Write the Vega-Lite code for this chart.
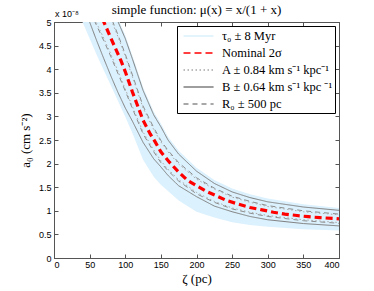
{
  "$schema": "https://vega.github.io/schema/vega-lite/v6.json",
  "width": 285,
  "height": 236,
  "autosize": {"type": "none"},
  "padding": {"left": 54, "top": 22, "right": 35, "bottom": 33},
  "background": "white",
  "title": {"text": "simple function: μ(x) = x/(1 + x)", "font": "Liberation Serif", "fontSize": 13, "fontWeight": "normal", "color": "black", "offset": -7, "anchor": "middle"},
  "datasets": {
    "band": [
      {"s": "τ₀ ± 8 Myr", "z": 40, "lo": 5.0, "hi": 6.87},
      {"s": "τ₀ ± 8 Myr", "z": 50, "lo": 4.65, "hi": 6.47},
      {"s": "τ₀ ± 8 Myr", "z": 60, "lo": 4.30, "hi": 6.12},
      {"s": "τ₀ ± 8 Myr", "z": 70, "lo": 3.97, "hi": 5.77},
      {"s": "τ₀ ± 8 Myr", "z": 80, "lo": 3.65, "hi": 5.42},
      {"s": "τ₀ ± 8 Myr", "z": 90, "lo": 3.32, "hi": 5.07},
      {"s": "τ₀ ± 8 Myr", "z": 100, "lo": 2.99, "hi": 4.72},
      {"s": "τ₀ ± 8 Myr", "z": 110, "lo": 2.65, "hi": 4.29},
      {"s": "τ₀ ± 8 Myr", "z": 125, "lo": 2.08, "hi": 3.62},
      {"s": "τ₀ ± 8 Myr", "z": 140, "lo": 1.72, "hi": 3.10},
      {"s": "τ₀ ± 8 Myr", "z": 150, "lo": 1.55, "hi": 2.85},
      {"s": "τ₀ ± 8 Myr", "z": 160, "lo": 1.42, "hi": 2.57},
      {"s": "τ₀ ± 8 Myr", "z": 175, "lo": 1.22, "hi": 2.27},
      {"s": "τ₀ ± 8 Myr", "z": 200, "lo": 0.98, "hi": 1.91},
      {"s": "τ₀ ± 8 Myr", "z": 225, "lo": 0.86, "hi": 1.65},
      {"s": "τ₀ ± 8 Myr", "z": 250, "lo": 0.76, "hi": 1.47},
      {"s": "τ₀ ± 8 Myr", "z": 275, "lo": 0.70, "hi": 1.35},
      {"s": "τ₀ ± 8 Myr", "z": 300, "lo": 0.66, "hi": 1.26},
      {"s": "τ₀ ± 8 Myr", "z": 350, "lo": 0.61, "hi": 1.14},
      {"s": "τ₀ ± 8 Myr", "z": 400, "lo": 0.58, "hi": 1.06}
    ],
    "lines": [
      {"s": "B ± 0.64 km s⁻¹ kpc ⁻¹", "b": "u", "z": 70, "a": 5.7},
      {"s": "B ± 0.64 km s⁻¹ kpc ⁻¹", "b": "u", "z": 80, "a": 5.35},
      {"s": "B ± 0.64 km s⁻¹ kpc ⁻¹", "b": "u", "z": 90, "a": 5.0},
      {"s": "B ± 0.64 km s⁻¹ kpc ⁻¹", "b": "u", "z": 100, "a": 4.65},
      {"s": "B ± 0.64 km s⁻¹ kpc ⁻¹", "b": "u", "z": 110, "a": 4.22},
      {"s": "B ± 0.64 km s⁻¹ kpc ⁻¹", "b": "u", "z": 125, "a": 3.55},
      {"s": "B ± 0.64 km s⁻¹ kpc ⁻¹", "b": "u", "z": 140, "a": 3.03},
      {"s": "B ± 0.64 km s⁻¹ kpc ⁻¹", "b": "u", "z": 150, "a": 2.78},
      {"s": "B ± 0.64 km s⁻¹ kpc ⁻¹", "b": "u", "z": 160, "a": 2.5},
      {"s": "B ± 0.64 km s⁻¹ kpc ⁻¹", "b": "u", "z": 175, "a": 2.2},
      {"s": "B ± 0.64 km s⁻¹ kpc ⁻¹", "b": "u", "z": 200, "a": 1.84},
      {"s": "B ± 0.64 km s⁻¹ kpc ⁻¹", "b": "u", "z": 225, "a": 1.58},
      {"s": "B ± 0.64 km s⁻¹ kpc ⁻¹", "b": "u", "z": 250, "a": 1.40},
      {"s": "B ± 0.64 km s⁻¹ kpc ⁻¹", "b": "u", "z": 275, "a": 1.28},
      {"s": "B ± 0.64 km s⁻¹ kpc ⁻¹", "b": "u", "z": 300, "a": 1.19},
      {"s": "B ± 0.64 km s⁻¹ kpc ⁻¹", "b": "u", "z": 350, "a": 1.08},
      {"s": "B ± 0.64 km s⁻¹ kpc ⁻¹", "b": "u", "z": 400, "a": 1.01},
      {"s": "B ± 0.64 km s⁻¹ kpc ⁻¹", "b": "l", "z": 40, "a": 5.4},
      {"s": "B ± 0.64 km s⁻¹ kpc ⁻¹", "b": "l", "z": 50, "a": 5.0},
      {"s": "B ± 0.64 km s⁻¹ kpc ⁻¹", "b": "l", "z": 60, "a": 4.6},
      {"s": "B ± 0.64 km s⁻¹ kpc ⁻¹", "b": "l", "z": 70, "a": 4.22},
      {"s": "B ± 0.64 km s⁻¹ kpc ⁻¹", "b": "l", "z": 80, "a": 3.85},
      {"s": "B ± 0.64 km s⁻¹ kpc ⁻¹", "b": "l", "z": 90, "a": 3.5},
      {"s": "B ± 0.64 km s⁻¹ kpc ⁻¹", "b": "l", "z": 100, "a": 3.18},
      {"s": "B ± 0.64 km s⁻¹ kpc ⁻¹", "b": "l", "z": 110, "a": 2.9},
      {"s": "B ± 0.64 km s⁻¹ kpc ⁻¹", "b": "l", "z": 125, "a": 2.45},
      {"s": "B ± 0.64 km s⁻¹ kpc ⁻¹", "b": "l", "z": 140, "a": 2.1},
      {"s": "B ± 0.64 km s⁻¹ kpc ⁻¹", "b": "l", "z": 150, "a": 1.93},
      {"s": "B ± 0.64 km s⁻¹ kpc ⁻¹", "b": "l", "z": 160, "a": 1.75},
      {"s": "B ± 0.64 km s⁻¹ kpc ⁻¹", "b": "l", "z": 175, "a": 1.53},
      {"s": "B ± 0.64 km s⁻¹ kpc ⁻¹", "b": "l", "z": 200, "a": 1.30},
      {"s": "B ± 0.64 km s⁻¹ kpc ⁻¹", "b": "l", "z": 225, "a": 1.1},
      {"s": "B ± 0.64 km s⁻¹ kpc ⁻¹", "b": "l", "z": 250, "a": 0.98},
      {"s": "B ± 0.64 km s⁻¹ kpc ⁻¹", "b": "l", "z": 275, "a": 0.88},
      {"s": "B ± 0.64 km s⁻¹ kpc ⁻¹", "b": "l", "z": 300, "a": 0.81},
      {"s": "B ± 0.64 km s⁻¹ kpc ⁻¹", "b": "l", "z": 350, "a": 0.73},
      {"s": "B ± 0.64 km s⁻¹ kpc ⁻¹", "b": "l", "z": 400, "a": 0.68},
      {"s": "R₀ ± 500 pc", "b": "u", "z": 50, "a": 6.27},
      {"s": "R₀ ± 500 pc", "b": "u", "z": 60, "a": 5.88},
      {"s": "R₀ ± 500 pc", "b": "u", "z": 70, "a": 5.5},
      {"s": "R₀ ± 500 pc", "b": "u", "z": 80, "a": 5.1},
      {"s": "R₀ ± 500 pc", "b": "u", "z": 90, "a": 4.72},
      {"s": "R₀ ± 500 pc", "b": "u", "z": 100, "a": 4.32},
      {"s": "R₀ ± 500 pc", "b": "u", "z": 110, "a": 3.88},
      {"s": "R₀ ± 500 pc", "b": "u", "z": 125, "a": 3.22},
      {"s": "R₀ ± 500 pc", "b": "u", "z": 140, "a": 2.76},
      {"s": "R₀ ± 500 pc", "b": "u", "z": 150, "a": 2.49},
      {"s": "R₀ ± 500 pc", "b": "u", "z": 160, "a": 2.28},
      {"s": "R₀ ± 500 pc", "b": "u", "z": 175, "a": 2.02},
      {"s": "R₀ ± 500 pc", "b": "u", "z": 200, "a": 1.70},
      {"s": "R₀ ± 500 pc", "b": "u", "z": 225, "a": 1.48},
      {"s": "R₀ ± 500 pc", "b": "u", "z": 250, "a": 1.31},
      {"s": "R₀ ± 500 pc", "b": "u", "z": 275, "a": 1.20},
      {"s": "R₀ ± 500 pc", "b": "u", "z": 300, "a": 1.11},
      {"s": "R₀ ± 500 pc", "b": "u", "z": 350, "a": 1.0},
      {"s": "R₀ ± 500 pc", "b": "u", "z": 400, "a": 0.93},
      {"s": "R₀ ± 500 pc", "b": "l", "z": 40, "a": 5.55},
      {"s": "R₀ ± 500 pc", "b": "l", "z": 50, "a": 5.24},
      {"s": "R₀ ± 500 pc", "b": "l", "z": 60, "a": 4.92},
      {"s": "R₀ ± 500 pc", "b": "l", "z": 70, "a": 4.6},
      {"s": "R₀ ± 500 pc", "b": "l", "z": 80, "a": 4.26},
      {"s": "R₀ ± 500 pc", "b": "l", "z": 90, "a": 3.9},
      {"s": "R₀ ± 500 pc", "b": "l", "z": 100, "a": 3.54},
      {"s": "R₀ ± 500 pc", "b": "l", "z": 110, "a": 3.17},
      {"s": "R₀ ± 500 pc", "b": "l", "z": 125, "a": 2.63},
      {"s": "R₀ ± 500 pc", "b": "l", "z": 140, "a": 2.25},
      {"s": "R₀ ± 500 pc", "b": "l", "z": 150, "a": 2.02},
      {"s": "R₀ ± 500 pc", "b": "l", "z": 160, "a": 1.85},
      {"s": "R₀ ± 500 pc", "b": "l", "z": 175, "a": 1.63},
      {"s": "R₀ ± 500 pc", "b": "l", "z": 200, "a": 1.36},
      {"s": "R₀ ± 500 pc", "b": "l", "z": 225, "a": 1.18},
      {"s": "R₀ ± 500 pc", "b": "l", "z": 250, "a": 1.04},
      {"s": "R₀ ± 500 pc", "b": "l", "z": 275, "a": 0.95},
      {"s": "R₀ ± 500 pc", "b": "l", "z": 300, "a": 0.88},
      {"s": "R₀ ± 500 pc", "b": "l", "z": 350, "a": 0.79},
      {"s": "R₀ ± 500 pc", "b": "l", "z": 400, "a": 0.735},
      {"s": "A ± 0.84 km s⁻¹ kpc⁻¹", "b": "u", "z": 60, "a": 5.83},
      {"s": "A ± 0.84 km s⁻¹ kpc⁻¹", "b": "u", "z": 70, "a": 5.45},
      {"s": "A ± 0.84 km s⁻¹ kpc⁻¹", "b": "u", "z": 80, "a": 5.06},
      {"s": "A ± 0.84 km s⁻¹ kpc⁻¹", "b": "u", "z": 90, "a": 4.68},
      {"s": "A ± 0.84 km s⁻¹ kpc⁻¹", "b": "u", "z": 100, "a": 4.28},
      {"s": "A ± 0.84 km s⁻¹ kpc⁻¹", "b": "u", "z": 110, "a": 3.84},
      {"s": "A ± 0.84 km s⁻¹ kpc⁻¹", "b": "u", "z": 125, "a": 3.18},
      {"s": "A ± 0.84 km s⁻¹ kpc⁻¹", "b": "u", "z": 140, "a": 2.72},
      {"s": "A ± 0.84 km s⁻¹ kpc⁻¹", "b": "u", "z": 150, "a": 2.46},
      {"s": "A ± 0.84 km s⁻¹ kpc⁻¹", "b": "u", "z": 160, "a": 2.25},
      {"s": "A ± 0.84 km s⁻¹ kpc⁻¹", "b": "u", "z": 175, "a": 1.99},
      {"s": "A ± 0.84 km s⁻¹ kpc⁻¹", "b": "u", "z": 200, "a": 1.67},
      {"s": "A ± 0.84 km s⁻¹ kpc⁻¹", "b": "u", "z": 225, "a": 1.46},
      {"s": "A ± 0.84 km s⁻¹ kpc⁻¹", "b": "u", "z": 250, "a": 1.29},
      {"s": "A ± 0.84 km s⁻¹ kpc⁻¹", "b": "u", "z": 275, "a": 1.18},
      {"s": "A ± 0.84 km s⁻¹ kpc⁻¹", "b": "u", "z": 300, "a": 1.09},
      {"s": "A ± 0.84 km s⁻¹ kpc⁻¹", "b": "u", "z": 350, "a": 0.98},
      {"s": "A ± 0.84 km s⁻¹ kpc⁻¹", "b": "u", "z": 400, "a": 0.915},
      {"s": "A ± 0.84 km s⁻¹ kpc⁻¹", "b": "l", "z": 40, "a": 5.6},
      {"s": "A ± 0.84 km s⁻¹ kpc⁻¹", "b": "l", "z": 50, "a": 5.29},
      {"s": "A ± 0.84 km s⁻¹ kpc⁻¹", "b": "l", "z": 60, "a": 4.97},
      {"s": "A ± 0.84 km s⁻¹ kpc⁻¹", "b": "l", "z": 70, "a": 4.65},
      {"s": "A ± 0.84 km s⁻¹ kpc⁻¹", "b": "l", "z": 80, "a": 4.31},
      {"s": "A ± 0.84 km s⁻¹ kpc⁻¹", "b": "l", "z": 90, "a": 3.95},
      {"s": "A ± 0.84 km s⁻¹ kpc⁻¹", "b": "l", "z": 100, "a": 3.58},
      {"s": "A ± 0.84 km s⁻¹ kpc⁻¹", "b": "l", "z": 110, "a": 3.21},
      {"s": "A ± 0.84 km s⁻¹ kpc⁻¹", "b": "l", "z": 125, "a": 2.67},
      {"s": "A ± 0.84 km s⁻¹ kpc⁻¹", "b": "l", "z": 140, "a": 2.29},
      {"s": "A ± 0.84 km s⁻¹ kpc⁻¹", "b": "l", "z": 150, "a": 2.06},
      {"s": "A ± 0.84 km s⁻¹ kpc⁻¹", "b": "l", "z": 160, "a": 1.88},
      {"s": "A ± 0.84 km s⁻¹ kpc⁻¹", "b": "l", "z": 175, "a": 1.66},
      {"s": "A ± 0.84 km s⁻¹ kpc⁻¹", "b": "l", "z": 200, "a": 1.39},
      {"s": "A ± 0.84 km s⁻¹ kpc⁻¹", "b": "l", "z": 225, "a": 1.2},
      {"s": "A ± 0.84 km s⁻¹ kpc⁻¹", "b": "l", "z": 250, "a": 1.06},
      {"s": "A ± 0.84 km s⁻¹ kpc⁻¹", "b": "l", "z": 275, "a": 0.97},
      {"s": "A ± 0.84 km s⁻¹ kpc⁻¹", "b": "l", "z": 300, "a": 0.9},
      {"s": "A ± 0.84 km s⁻¹ kpc⁻¹", "b": "l", "z": 350, "a": 0.81},
      {"s": "A ± 0.84 km s⁻¹ kpc⁻¹", "b": "l", "z": 400, "a": 0.75}
    ],
    "nominal": [
      {"s": "Nominal 2σ", "z": 55, "a": 5.5},
      {"s": "Nominal 2σ", "z": 60, "a": 5.35},
      {"s": "Nominal 2σ", "z": 70, "a": 5.0},
      {"s": "Nominal 2σ", "z": 78, "a": 4.72},
      {"s": "Nominal 2σ", "z": 86, "a": 4.45},
      {"s": "Nominal 2σ", "z": 94, "a": 4.18},
      {"s": "Nominal 2σ", "z": 100, "a": 3.95},
      {"s": "Nominal 2σ", "z": 110, "a": 3.52},
      {"s": "Nominal 2σ", "z": 125, "a": 2.92},
      {"s": "Nominal 2σ", "z": 135, "a": 2.63},
      {"s": "Nominal 2σ", "z": 142, "a": 2.46},
      {"s": "Nominal 2σ", "z": 150, "a": 2.25},
      {"s": "Nominal 2σ", "z": 162, "a": 2.03},
      {"s": "Nominal 2σ", "z": 175, "a": 1.82},
      {"s": "Nominal 2σ", "z": 187, "a": 1.65},
      {"s": "Nominal 2σ", "z": 200, "a": 1.53},
      {"s": "Nominal 2σ", "z": 214, "a": 1.41},
      {"s": "Nominal 2σ", "z": 229, "a": 1.31},
      {"s": "Nominal 2σ", "z": 242, "a": 1.22},
      {"s": "Nominal 2σ", "z": 259, "a": 1.14},
      {"s": "Nominal 2σ", "z": 275, "a": 1.07},
      {"s": "Nominal 2σ", "z": 292, "a": 1.02},
      {"s": "Nominal 2σ", "z": 308, "a": 0.97},
      {"s": "Nominal 2σ", "z": 324, "a": 0.93},
      {"s": "Nominal 2σ", "z": 341, "a": 0.90},
      {"s": "Nominal 2σ", "z": 357, "a": 0.875},
      {"s": "Nominal 2σ", "z": 373, "a": 0.855},
      {"s": "Nominal 2σ", "z": 400, "a": 0.83}
    ],
    "label": [{"z": 0, "a": 5, "t": "x 10⁻⁸"}]
  },
  "layer": [
    {
      "data": {"name": "band"},
      "mark": {"type": "area", "clip": true, "opacity": 1},
      "encoding": {
        "x": {"field": "z", "type": "quantitative", "scale": {"domain": [0, 400], "nice": false},
              "axis": {"orient": "bottom", "values": [0, 50, 100, 150, 200, 250, 300, 350, 400], "title": "ζ (pc)", "tickSize": -4, "labelPadding": 6, "titlePadding": 3, "labelOverlap": false}},
        "y": {"field": "hi", "type": "quantitative", "scale": {"domain": [0, 5], "nice": false},
              "axis": {"orient": "left", "values": [0, 0.5, 1, 1.5, 2, 2.5, 3, 3.5, 4, 4.5, 5], "format": "~g", "title": "a₀ (cm s⁻²)", "tickSize": -4, "labelPadding": 7, "titlePadding": 6, "labelOverlap": false}},
        "y2": {"field": "lo"},
        "color": {"field": "s", "type": "nominal",
                  "scale": {"domain": ["τ₀ ± 8 Myr", "Nominal 2σ", "A ± 0.84 km s⁻¹ kpc⁻¹", "B ± 0.64 km s⁻¹ kpc ⁻¹", "R₀ ± 500 pc"], "range": ["#dbf1fd", "#ff0000", "#a8a8a8", "#7f7f7f", "#8c8c8c"]}}
      }
    },
    {
      "data": {"name": "lines"},
      "mark": {"type": "line", "clip": true, "strokeWidth": 1},
      "encoding": {
        "x": {"field": "z", "type": "quantitative", "axis": null},
        "y": {"field": "a", "type": "quantitative", "axis": null},
        "color": {"field": "s", "type": "nominal"},
        "strokeDash": {"field": "s", "type": "nominal",
                  "scale": {"domain": ["τ₀ ± 8 Myr", "Nominal 2σ", "A ± 0.84 km s⁻¹ kpc⁻¹", "B ± 0.64 km s⁻¹ kpc ⁻¹", "R₀ ± 500 pc"], "range": [[1, 0], [7, 4], [1.5, 2.5], [1, 0], [5, 4]]}},
        "detail": {"field": "b", "type": "nominal"}
      }
    },
    {
      "data": {"name": "nominal"},
      "mark": {"type": "line", "clip": true, "strokeWidth": 3.2},
      "encoding": {
        "x": {"field": "z", "type": "quantitative",
              "axis": {"orient": "top", "values": [0, 50, 100, 150, 200, 250, 300, 350, 400], "labels": false, "title": null, "tickSize": -4}},
        "y": {"field": "a", "type": "quantitative",
              "axis": {"orient": "right", "values": [0, 0.5, 1, 1.5, 2, 2.5, 3, 3.5, 4, 4.5, 5], "labels": false, "title": null, "tickSize": -4}},
        "color": {"field": "s", "type": "nominal"},
        "strokeDash": {"field": "s", "type": "nominal"}
      }
    },
    {
      "data": {"name": "label"},
      "mark": {"type": "text", "align": "left", "baseline": "alphabetic", "dx": 1, "dy": -5, "font": "Liberation Sans", "fontSize": 9},
      "encoding": {
        "x": {"field": "z", "type": "quantitative", "axis": null},
        "y": {"field": "a", "type": "quantitative", "axis": null},
        "text": {"field": "t"},
        "color": {"value": "black"}
      }
    }
  ],
  "resolve": {"axis": {"x": "independent", "y": "independent"}},
  "config": {
    "view": {"stroke": "#555", "strokeWidth": 1},
    "axis": {"labelFont": "Liberation Sans", "labelFontSize": 9, "labelColor": "black", "titleFont": "Liberation Serif", "titleFontSize": 13, "titleFontWeight": "normal", "titleColor": "black", "grid": false, "domainColor": "#555", "tickColor": "#555", "domainWidth": 1},
    "legend": {"title": null, "orient": "top-right", "offset": 4, "padding": 2, "strokeColor": "black", "fillColor": "white", "symbolType": "M-0.5,0H3.8", "symbolSize": 196, "labelOffset": 27, "rowPadding": 2, "labelFont": "Liberation Serif", "labelFontSize": 12.5, "labelColor": "black", "labelLimit": 300, "symbolOpacity": 1, "symbolStrokeWidth": 1.6}
  }
}
